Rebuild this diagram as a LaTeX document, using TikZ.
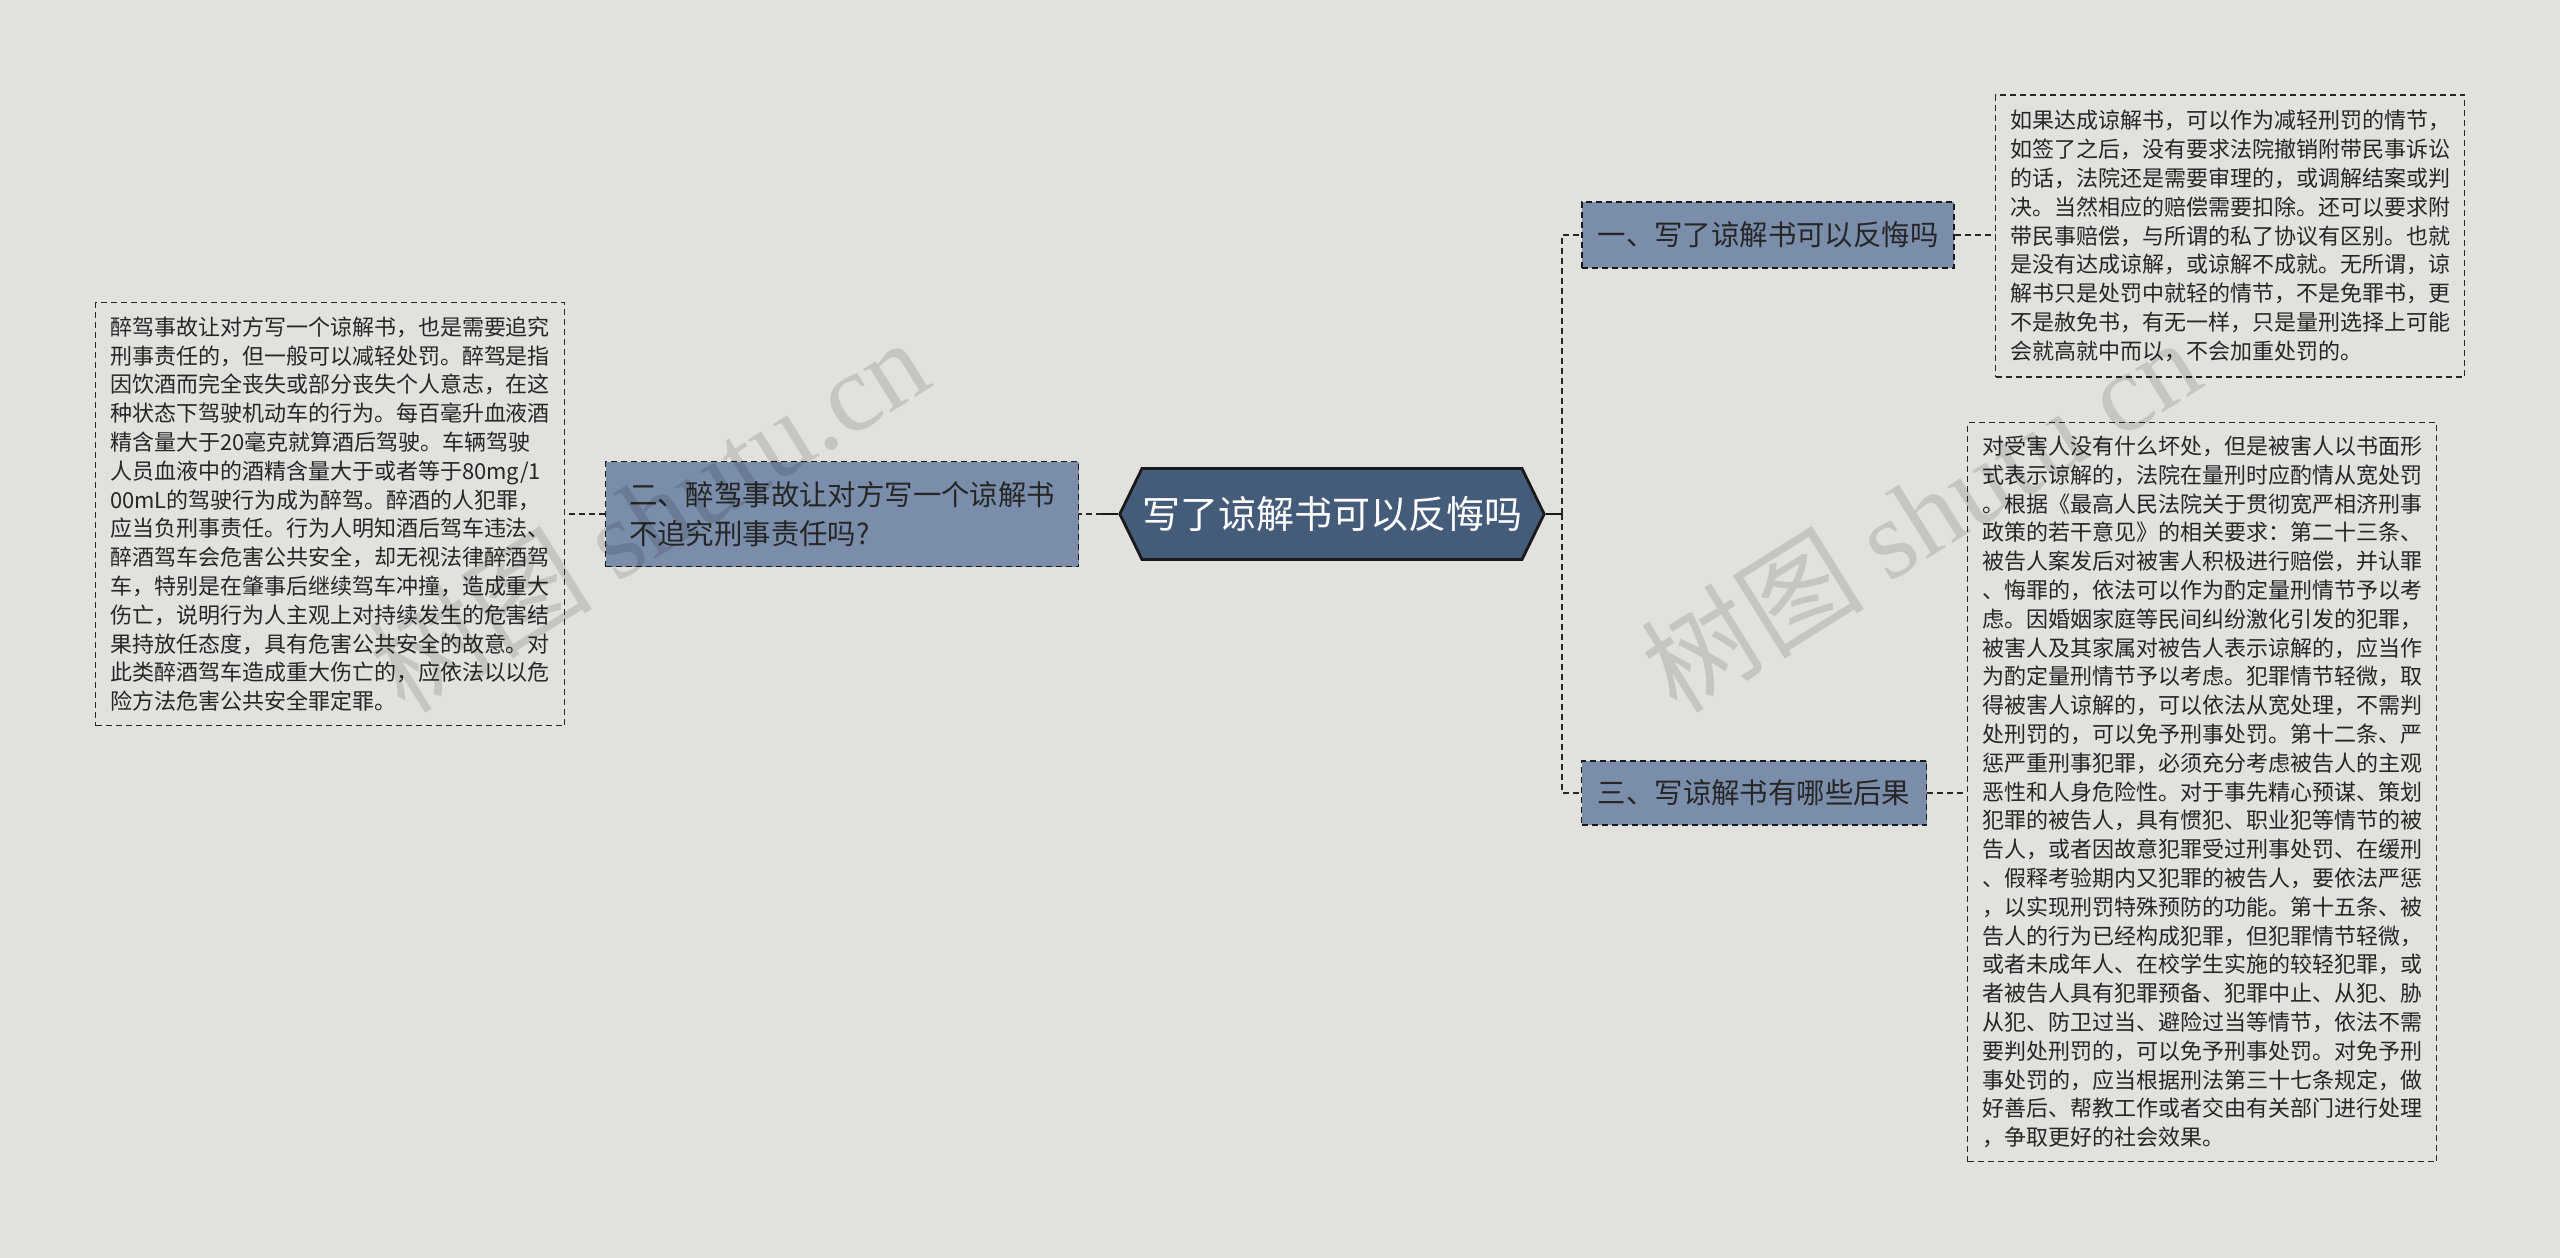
\documentclass[tikz,border=0pt]{standalone}
\usepackage{fontspec}
\setmainfont{Noto Sans CJK SC}
\newfontfamily\wmfont{Liberation Serif}
\usetikzlibrary{shapes.symbols}
\definecolor{bgc}{HTML}{E1E2DD}
\definecolor{rootc}{HTML}{445B7A}
\definecolor{midc}{HTML}{7A8DAA}
\definecolor{txtc}{HTML}{262626}
\tikzset{
  rootbox/.style={signal, signal to=west and east, signal pointer angle=128,
    minimum width=209pt, minimum height=45.5pt, inner sep=0pt,
    fill=rootc, draw=black!90, line width=1.4pt, text=white,
    font=\fontsize{19}{19}\selectfont},
  midbox/.style={rectangle, fill=midc, draw=black!90, line width=0.75pt,
    dash pattern=on 3pt off 2pt, text=txtc, align=left, inner xsep=5pt,
    font=\fontsize{14.2}{19.6}\selectfont},
  leafbox/.style={rectangle, draw=black!85, line width=0.65pt,
    dash pattern=on 3pt off 2pt, text=txtc, align=left, inner xsep=6pt,
    font=\fontsize{11}{14.4}\selectfont},
  solidline/.style={draw=black!90, line width=1.3pt},
  dashline/.style={draw=black!85, line width=0.75pt, dash pattern=on 3pt off 2pt},
  wm/.style={text=black, opacity=0.12, font=\fontsize{56}{56}\selectfont, inner sep=0pt}
}
\begin{document}
\begin{tikzpicture}[x=1pt,y=-1pt]
\fill[bgc] (0,0) rectangle (1280,629);
\useasboundingbox (0,0) rectangle (1280,629);

\node[rootbox] (root) at (666,257) {写了谅解书可以反悔吗};

\node[midbox, minimum width=236.5pt, minimum height=52.5pt] (n2) at (421,257)
  {二、醉驾事故让对方写一个谅解书\\不追究刑事责任吗?};
\node[midbox, minimum width=186pt, minimum height=33pt] (n1) at (884,117.5)
  {一、写了谅解书可以反悔吗};
\node[midbox, minimum width=172.5pt, minimum height=32pt] (n3) at (877,396.5)
  {三、写谅解书有哪些后果};

\node[leafbox, minimum width=234.5pt, minimum height=211.5pt] (leafL) at (165,257)
  {醉驾事故让对方写一个谅解书，也是需要追究\\
刑事责任的，但一般可以减轻处罚。醉驾是指\\
因饮酒而完全丧失或部分丧失个人意志，在这\\
种状态下驾驶机动车的行为。每百毫升血液酒\\
精含量大于20毫克就算酒后驾驶。车辆驾驶\\
人员血液中的酒精含量大于或者等于80mg/1\\
00mL的驾驶行为成为醉驾。醉酒的人犯罪，\\
应当负刑事责任。行为人明知酒后驾车违法、\\
醉酒驾车会危害公共安全，却无视法律醉酒驾\\
车，特别是在肇事后继续驾车冲撞，造成重大\\
伤亡，说明行为人主观上对持续发生的危害结\\
果持放任态度，具有危害公共安全的故意。对\\
此类醉酒驾车造成重大伤亡的，应依法以以危\\
险方法危害公共安全罪定罪。};

\node[leafbox, minimum width=234.5pt, minimum height=141pt] (leafT) at (1115,118)
  {如果达成谅解书，可以作为减轻刑罚的情节，\\
如签了之后，没有要求法院撤销附带民事诉讼\\
的话，法院还是需要审理的，或调解结案或判\\
决。当然相应的赔偿需要扣除。还可以要求附\\
带民事赔偿，与所谓的私了协议有区别。也就\\
是没有达成谅解，或谅解不成就。无所谓，谅\\
解书只是处罚中就轻的情节，不是免罪书，更\\
不是赦免书，有无一样，只是量刑选择上可能\\
会就高就中而以，不会加重处罚的。};

\node[leafbox, minimum width=234.5pt, minimum height=369.5pt] (leafB) at (1101,396)
  {对受害人没有什么坏处，但是被害人以书面形\\
式表示谅解的，法院在量刑时应酌情从宽处罚\\
。根据《最高人民法院关于贯彻宽严相济刑事\\
政策的若干意见》的相关要求：第二十三条、\\
被告人案发后对被害人积极进行赔偿，并认罪\\
、悔罪的，依法可以作为酌定量刑情节予以考\\
虑。因婚姻家庭等民间纠纷激化引发的犯罪，\\
被害人及其家属对被告人表示谅解的，应当作\\
为酌定量刑情节予以考虑。犯罪情节轻微，取\\
得被害人谅解的，可以依法从宽处理，不需判\\
处刑罚的，可以免予刑事处罚。第十二条、严\\
惩严重刑事犯罪，必须充分考虑被告人的主观\\
恶性和人身危险性。对于事先精心预谋、策划\\
犯罪的被告人，具有惯犯、职业犯等情节的被\\
告人，或者因故意犯罪受过刑事处罚、在缓刑\\
、假释考验期内又犯罪的被告人，要依法严惩\\
，以实现刑罚特殊预防的功能。第十五条、被\\
告人的行为已经构成犯罪，但犯罪情节轻微，\\
或者未成年人、在校学生实施的较轻犯罪，或\\
者被告人具有犯罪预备、犯罪中止、从犯、胁\\
从犯、防卫过当、避险过当等情节，依法不需\\
要判处刑罚的，可以免予刑事处罚。对免予刑\\
事处罚的，应当根据刑法第三十七条规定，做\\
好善后、帮教工作或者交由有关部门进行处理\\
，争取更好的社会效果。};

% connectors
\coordinate (tr) at (781,257);
\coordinate (tl) at (551,257);
\draw[solidline] (root.east) -- (tr);
\draw[dashline] (tr) |- (n1.west);
\draw[dashline] (tr) |- (n3.west);
\draw[solidline] (root.west) -- (tl);
\draw[dashline] (tl) -- (n2.east);
\draw[dashline] (n2.west) -- (leafL.east);
\draw[dashline] (n1.east) -- (leafT.west |- n1.east);
\draw[dashline] (n3.east) -- (leafB.west |- n3.east);

% watermarks
\node[wm, rotate=32] (wm1) at (324,257) {树图 {\wmfont shutu.cn}};
\node[wm, rotate=32] (wm2) at (960,257) {树图 {\wmfont shutu.cn}};
\end{tikzpicture}
\end{document}
